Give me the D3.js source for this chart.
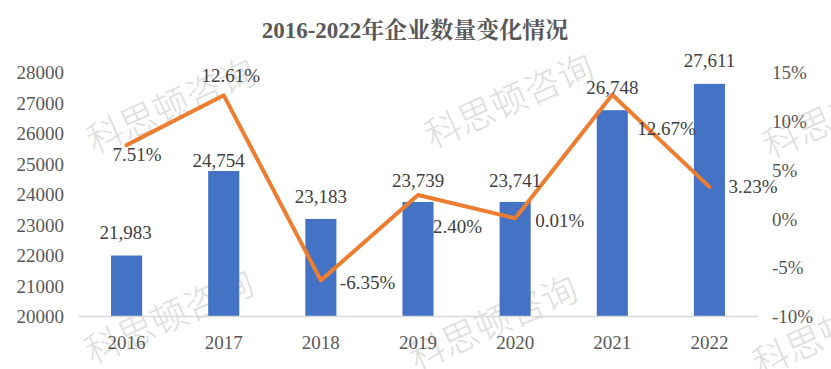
<!DOCTYPE html>
<html>
<head>
<meta charset="utf-8">
<script src="https://cdn.jsdelivr.net/npm/d3@7/dist/d3.min.js"></script>
<style>
  html, body { margin: 0; padding: 0; background: #ffffff; }
  svg { display: block; }
</style>
</head>
<body>
<svg id="chart" width="831" height="369"></svg>
<script>
// ---- data ----
const years = ["2016", "2017", "2018", "2019", "2020", "2021", "2022"];
const companyCounts = [21983, 24754, 23183, 23739, 23741, 26748, 27611];
const growthRates = [7.51, 12.61, -6.35, 2.40, 0.01, 12.67, 3.23];
const leftTicks = [20000, 21000, 22000, 23000, 24000, 25000, 26000, 27000, 28000];
const rightTicks = [-10, -5, 0, 5, 10, 15];
const titleText = "2016-2022年企业数量变化情况";
const watermarkText = "科思顿咨询";

// ---- label placement (style) ----
const barLabelStyle = [
  {dx: -1, dy: -23}, {dx: -5, dy: -11}, {dx: 0, dy: -22}, {dx: 0, dy: -21},
  {dx: 0, dy: -21}, {dx: 0, dy: -23}, {dx: 0, dy: -23}
];
const lineLabelStyle = [
  {anchor: "start", dx: -14, dy: 9},
  {anchor: "middle", dx: 7, dy: -20},
  {anchor: "start", dx: 19, dy: 2},
  {anchor: "start", dx: 15, dy: 32},
  {anchor: "start", dx: 20, dy: 2},
  {anchor: "start", dx: 25, dy: 34},
  {anchor: "start", dx: 19, dy: 0}
];
const watermarkSpots = [[170, 103], [508, 98], [846, 108], [168, 314], [492, 320], [836, 326]];

const W = 831, H = 369;
const serif = "'Liberation Serif', 'Times New Roman', serif";
const svg = d3.select("#chart");

// watermark (behind)
const wm = svg.append("g");
watermarkSpots.forEach(([cx, cy]) => {
  wm.append("text")
    .attr("transform", `translate(${cx},${cy}) rotate(-24)`)
    .attr("text-anchor", "middle")
    .attr("dominant-baseline", "central")
    .style("font-family", "'Noto Sans CJK SC', sans-serif")
    .style("font-size", "36px")
    .style("font-weight", 300)
    .style("fill", "#dedede")
    .text(watermarkText);
});

// scales
const x = d3.scaleBand().domain(years).range([78, 758]).paddingInner(0.68).paddingOuter(0.34);
const yL = d3.scaleLinear().domain([20000, 28000]).range([316, 72]);
const yR = d3.scaleLinear().domain([-10, 15]).range([316, 72]);

// title
svg.append("text")
  .attr("x", 415).attr("y", 30)
  .attr("text-anchor", "middle")
  .attr("dominant-baseline", "central")
  .style("font-family", serif + ", 'Noto Serif CJK SC', 'Noto Sans CJK SC'")
  .style("font-size", "23px")
  .style("font-weight", "bold")
  .style("fill", "#595959")
  .text(titleText);

// left axis labels
const leftAxis = d3.axisLeft(yL).tickValues(leftTicks).tickFormat(d3.format("d")).tickSize(0).tickPadding(0);
const gL = svg.append("g").attr("transform", "translate(64,0)").call(leftAxis);
gL.select(".domain").remove();
gL.selectAll("text")
  .attr("dy", "0.35em")
  .style("font-family", serif).style("font-size", "19px").style("fill", "#595959");

// right axis labels
const rightAxis = d3.axisRight(yR).tickValues(rightTicks).tickFormat(d => d + "%").tickSize(0).tickPadding(0);
const gR = svg.append("g").attr("transform", "translate(772,0)").call(rightAxis);
gR.select(".domain").remove();
gR.selectAll("text")
  .attr("dy", "0.35em")
  .style("font-family", serif).style("font-size", "19px").style("fill", "#595959");

// bars
svg.append("g").selectAll("rect").data(years).join("rect")
  .attr("x", d => x(d))
  .attr("width", x.bandwidth())
  .attr("y", (d, i) => yL(companyCounts[i]))
  .attr("height", (d, i) => yL(20000) - yL(companyCounts[i]))
  .attr("fill", "#4472C4");

// baseline axis
const bottomAxis = d3.axisBottom(x).tickSize(0).tickPadding(0);
const gB = svg.append("g").attr("transform", "translate(0,316.5)").call(bottomAxis);
gB.select(".domain").attr("stroke", "#d9d9d9").attr("stroke-width", 1.5)
  .attr("d", "M79,0H758");
gB.selectAll("text")
  .attr("y", 25.5).attr("dy", "0.35em")
  .style("font-family", serif).style("font-size", "19px").style("fill", "#595959");

// line
const line = d3.line()
  .x((d, i) => x(years[i]) + x.bandwidth() / 2)
  .y(d => yR(d));
svg.append("path")
  .datum(growthRates)
  .attr("d", line)
  .attr("fill", "none")
  .attr("stroke", "#ED7D31")
  .attr("stroke-width", 4)
  .attr("stroke-linejoin", "round")
  .attr("stroke-linecap", "round");

// bar value labels
const fmt = d3.format(",");
svg.append("g").selectAll("text").data(years).join("text")
  .attr("x", (d, i) => x(d) + x.bandwidth() / 2 + barLabelStyle[i].dx)
  .attr("y", (d, i) => yL(companyCounts[i]) + barLabelStyle[i].dy)
  .attr("text-anchor", "middle")
  .attr("dominant-baseline", "central")
  .style("font-family", serif).style("font-size", "19px").style("fill", "#404040")
  .text((d, i) => fmt(companyCounts[i]));

// line value labels
svg.append("g").selectAll("text").data(years).join("text")
  .attr("x", (d, i) => x(d) + x.bandwidth() / 2 + lineLabelStyle[i].dx)
  .attr("y", (d, i) => yR(growthRates[i]) + lineLabelStyle[i].dy)
  .attr("text-anchor", (d, i) => lineLabelStyle[i].anchor)
  .attr("dominant-baseline", "central")
  .style("font-family", serif).style("font-size", "19px").style("fill", "#404040")
  .text((d, i) => growthRates[i].toFixed(2) + "%");
</script>
</body>
</html>
